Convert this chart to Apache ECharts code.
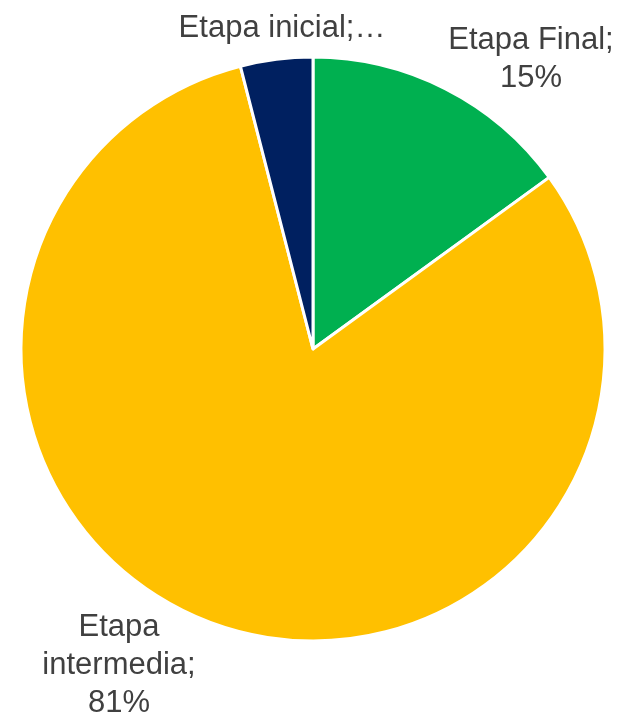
<!DOCTYPE html>
<html>
<head>
<meta charset="utf-8">
<script src="https://cdn.jsdelivr.net/npm/echarts@6/dist/echarts.min.js"></script>
<style>
  html, body { margin: 0; padding: 0; background: #fff; }
  #chart { width: 618px; height: 714px; }
</style>
</head>
<body>
<div id="chart"></div>
<script>
// stages, clockwise from 12 o'clock
var categories = ['Etapa Final', 'Etapa intermedia', 'Etapa inicial']
var values = [15, 81, 4]
var labelTexts = ['Etapa Final;\n15%', 'Etapa\nintermedia;\n81%', 'Etapa inicial;…']
var colors = ['#00B050', '#FFC000', '#002060']

// where the labels sit (label centre, px)
var labelSpots = [[531, 59], [119, 665], [282, 28]]

var chart = echarts.init(document.getElementById('chart'))
var options = {
  animation: false,
  series: [
    {
      type: 'pie',
      center: [313, 349],
      radius: [0, 292],
      startAngle: 90,
      clockwise: true,
      data: categories.map(function (name, i) {
        return {
          name: name,
          value: values[i],
          itemStyle: { color: colors[i] },
          label: { formatter: labelTexts[i] }
        }
      }),
      itemStyle: {
        borderColor: '#fff',
        borderWidth: 3
      },
      label: {
        show: true,
        position: 'inside',
        color: '#404040',
        fontFamily: 'Liberation Sans, Arial, sans-serif',
        fontSize: 31,
        lineHeight: 38,
        align: 'center',
        overflow: 'none'
      },
      labelLine: { show: false },
      labelLayout: function (params) {
        var p = labelSpots[params.dataIndex]
        return { x: p[0], y: p[1], align: 'center', verticalAlign: 'middle' }
      }
    }
  ]
}
chart.setOption(options)
</script>
</body>
</html>
